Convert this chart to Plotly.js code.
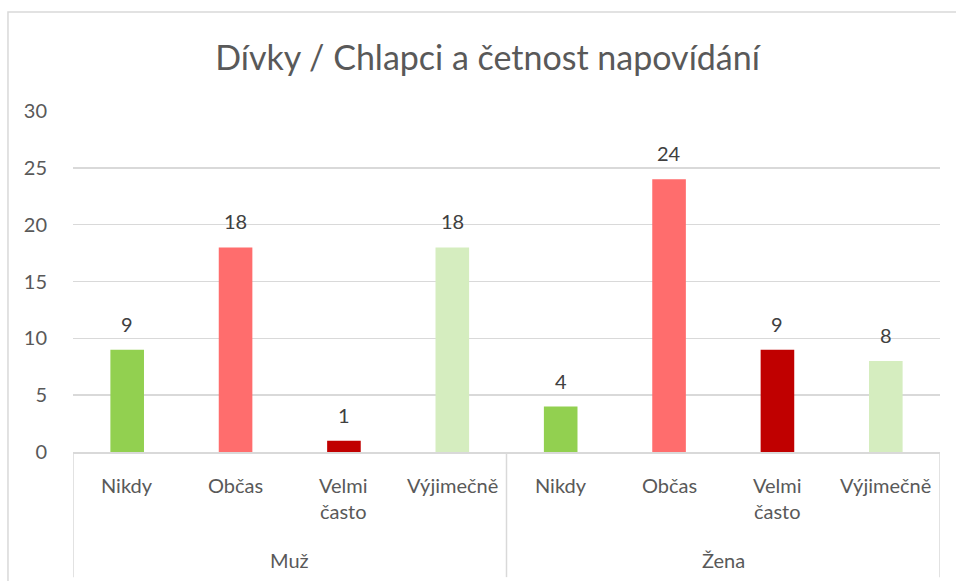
<!DOCTYPE html>
<html>
<head>
<meta charset="utf-8">
<script src="https://cdn.plot.ly/plotly-3.0.1.min.js"></script>
<style>html,body{margin:0;padding:0;background:#fff;}#chart{width:956px;height:581px;}</style>
</head>
<body>
<div id="chart"></div>
<script>
const groups = ["Muž", "Žena"];
const categories = ["Nikdy", "Občas", "Velmi<br>často", "Výjimečně"];
const valuesMuz = [9, 18, 1, 18];
const valuesZena = [4, 24, 9, 8];
const categoryColors = ["#92d050", "#ff6d6d", "#c00000", "#d5edbf"];
const yTicks = [0, 5, 10, 15, 20, 25, 30];

const FONT = "Lato, 'Open Sans', sans-serif";
const values = valuesMuz.concat(valuesZena);
const xs = values.map((v, i) => i);
const colors = values.map((v, i) => categoryColors[i % categories.length]);

const trace = {
  type: "bar",
  x: xs,
  y: values,
  marker: {color: colors},
  hoverinfo: "y"
};

const annotations = [];
values.forEach((v, i) => {
  annotations.push({
    x: i, y: v, xref: "x", yref: "y", text: String(v), showarrow: false,
    yanchor: "middle", yshift: 26, font: {family: FONT, size: 20, color: "#404040"}
  });
  annotations.push({
    x: i, y: 0, xref: "x", yref: "y", text: categories[i % categories.length], showarrow: false,
    yanchor: "top", yshift: -19, font: {family: FONT, size: 20, color: "#595959"}
  });
});
groups.forEach((g, gi) => {
  annotations.push({
    x: gi * categories.length + (categories.length - 1) / 2, y: 0, xref: "x", yref: "y",
    text: g, showarrow: false, yanchor: "middle", yshift: -108,
    font: {family: FONT, size: 20, color: "#595959"}
  });
});

const shapes = [
  {type: "rect", xref: "paper", yref: "paper", x0: -0.075, x1: 1.03, y0: -0.4, y1: 1.29,
   line: {color: "#d9d9d9", width: 1.5}, fillcolor: "rgba(0,0,0,0)", layer: "below"}
];
for (let gi = 0; gi <= groups.length; gi++) {
  const xv = gi * categories.length - 0.5;
  shapes.push({type: "line", xref: "x", yref: "paper", x0: xv, x1: xv, y0: 0, y1: -0.367,
    line: {color: "#d9d9d9", width: 1.5}});
}

const layout = {
  width: 956, height: 581,
  margin: {l: 73, r: 16, t: 111, b: 129},
  paper_bgcolor: "#ffffff", plot_bgcolor: "#ffffff",
  showlegend: false,
  bargap: 0.69,
  title: {
    text: "Dívky / Chlapci a četnost napovídání",
    font: {family: FONT, size: 34, color: "#595959"},
    x: 0.51, xanchor: "center", y: 0.9, yanchor: "middle"
  },
  xaxis: {
    range: [-0.5, values.length - 0.5],
    showticklabels: false, showgrid: false, zeroline: false,
    showline: true, linecolor: "#d9d9d9", linewidth: 1.5,
    fixedrange: true
  },
  yaxis: {
    range: [0, 30], tickvals: yTicks, ticktext: yTicks.map(String),
    showgrid: true, gridcolor: "#d9d9d9", gridwidth: 1.5,
    zeroline: false, showline: false,
    ticks: "outside", ticklen: 21, tickcolor: "rgba(0,0,0,0)",
    tickfont: {family: FONT, size: 20, color: "#595959"},
    fixedrange: true
  },
  annotations: annotations,
  shapes: shapes
};

Plotly.newPlot("chart", [trace], layout, {displayModeBar: false, staticPlot: true});
</script>
</body>
</html>
